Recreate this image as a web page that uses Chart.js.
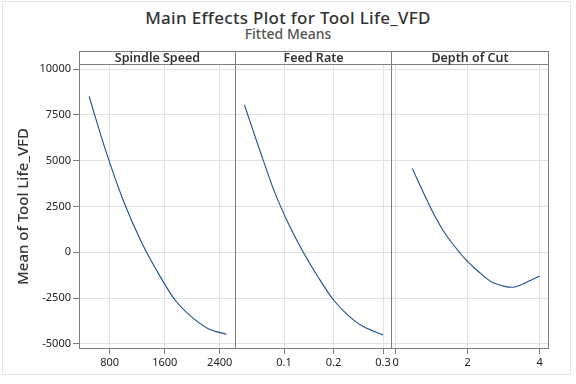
<!DOCTYPE html>
<html>
<head>
<meta charset="utf-8">
<script src="https://cdn.jsdelivr.net/npm/chart.js@4.4.1/dist/chart.umd.min.js"></script>
<style>
  body { margin: 0; background: #fff; }
  #page { position: relative; width: 576px; height: 384px; overflow: hidden; font-family: "Noto Sans", sans-serif; }
  #outline { position: absolute; left: 2px; top: 1px; width: 567px; height: 372px; border: 1px solid #e2e2e2; }
  #title { position: absolute; left: 0; top: 8px; width: 576px; text-align: center; font-size: 17px; font-weight: 500; color: #333; line-height: 20px; letter-spacing: 0.3px; }
  #subtitle { position: absolute; left: 0; top: 25px; width: 576px; text-align: center; font-size: 14px; font-weight: 500; color: #555; line-height: 18px; }
  canvas { position: absolute; top: 0; }
</style>
</head>
<body>
<div id="page">
  <div id="outline"></div>
  <div id="title">Main Effects Plot for Tool Life_VFD</div>
  <div id="subtitle">Fitted Means</div>
  <canvas id="speedChart" width="236" height="384" style="left:0px"></canvas>
  <canvas id="feedChart" width="157" height="384" style="left:235px"></canvas>
  <canvas id="depthChart" width="158" height="384" style="left:391px"></canvas>
</div>
<script>
// values
const factorNames = ['Spindle Speed', 'Feed Rate', 'Depth of Cut'];
const yAxisTitle = 'Mean of Tool Life_VFD';

const speedX = [500, 750, 1000, 1250, 1500, 1750, 2000, 2250, 2500];
const speedMean = [8500, 5450, 2800, 650, -1100, -2600, -3550, -4200, -4470];

const feedX = [0.02, 0.05, 0.08, 0.11, 0.14, 0.17, 0.2, 0.23, 0.26, 0.3];
const feedMean = [8040, 5650, 3350, 1500, -50, -1400, -2600, -3450, -4050, -4510];

const depthX = [0.46, 0.8, 1.07, 1.4, 1.79, 2, 2.28, 2.65, 3.06, 3.3, 3.57, 4];
const depthMean = [4580, 3130, 2040, 945, -50, -510, -1020, -1600, -1870, -1890, -1690, -1290];

const meanTicks = [-5000, -2500, 0, 2500, 5000, 7500, 10000];
const speedTicks = [800, 1600, 2400];
const feedTicks = [0.1, 0.2, 0.3];
const depthTicks = [0, 2, 4];

const FONT = '"Noto Sans", sans-serif';
const LINE = '#1b4f8c';
const FRAME = '#7f7f7f';
const GRID = '#e1e1e1';

// draws the panel box and the header strip with the factor name
const panelFrame = {
    id: 'panelFrame',
    afterDraw(chart, args, opts) {
        const { ctx, chartArea: a } = chart;
        ctx.save();
        ctx.strokeStyle = FRAME;
        ctx.lineWidth = 1;
        ctx.strokeRect(a.left + 0.5, a.top - 12.5, a.right - a.left - 1, a.bottom - a.top + 12);
        ctx.beginPath();
        ctx.moveTo(a.left, a.top + 0.5);
        ctx.lineTo(a.right, a.top + 0.5);
        ctx.stroke();
        ctx.fillStyle = '#333';
        ctx.font = '600 12.5px ' + FONT;
        ctx.textAlign = 'center';
        ctx.textBaseline = 'middle';
        ctx.fillText(opts.label, (a.left + a.right) / 2, a.top - 6);
        ctx.restore();
    }
};

function makePanel(id, label, xs, ys, xTicks, xMin, xMax, showY) {
    const ctx = document.getElementById(id);
    new Chart(ctx, {
        type: 'line',
        data: {
            datasets: [{
                data: xs.map((x, i) => ({ x: x, y: ys[i] })),
                borderColor: LINE,
                borderWidth: 1.1,
                pointRadius: 0,
                tension: 0.3,
                fill: false
            }]
        },
        options: {
            responsive: false,
            animation: false,
            layout: { padding: { top: 64, bottom: 0, left: 0, right: 0 } },
            plugins: {
                legend: { display: false },
                tooltip: { enabled: false },
                panelFrame: { label: label }
            },
            scales: {
                x: {
                    type: 'linear',
                    min: xMin,
                    max: xMax,
                    border: { display: false },
                    grid: { color: GRID, tickColor: FRAME, tickLength: 5 },
                    ticks: {
                        color: '#222',
                        font: { family: FONT, size: 11 },
                        padding: 2,
                        maxRotation: 0,
                        autoSkip: false,
                        callback: v => String(v)
                    },
                    afterBuildTicks: s => { s.ticks = xTicks.map(v => ({ value: v })); },
                    afterFit: s => { s.height = 35; s.paddingLeft = 0; s.paddingRight = 0; }
                },
                y: {
                    min: -5273,
                    max: 10273,
                    border: { display: false },
                    grid: { color: GRID, tickColor: FRAME, tickLength: 6, drawTicks: showY },
                    ticks: {
                        display: showY,
                        color: '#222',
                        font: { family: FONT, size: 11 },
                        padding: 2,
                        callback: v => String(v)
                    },
                    title: {
                        display: showY,
                        text: yAxisTitle,
                        color: '#333',
                        font: { family: FONT, size: 15, weight: 500 },
                        padding: { top: 15, bottom: 0 }
                    },
                    afterBuildTicks: s => { s.ticks = meanTicks.map(v => ({ value: v })); },
                    afterFit: s => { s.width = showY ? 79 : 0; s.paddingTop = 0; s.paddingBottom = 0; }
                }
            }
        },
        plugins: [panelFrame]
    });
}

makePanel('speedChart', factorNames[0], speedX, speedMean, speedTicks, 353, 2637, true);
makePanel('feedChart', factorNames[1], feedX, feedMean, feedTicks, 0.001, 0.318, false);
makePanel('depthChart', factorNames[2], depthX, depthMean, depthTicks, -0.131, 4.258, false);
</script>
</body>
</html>
